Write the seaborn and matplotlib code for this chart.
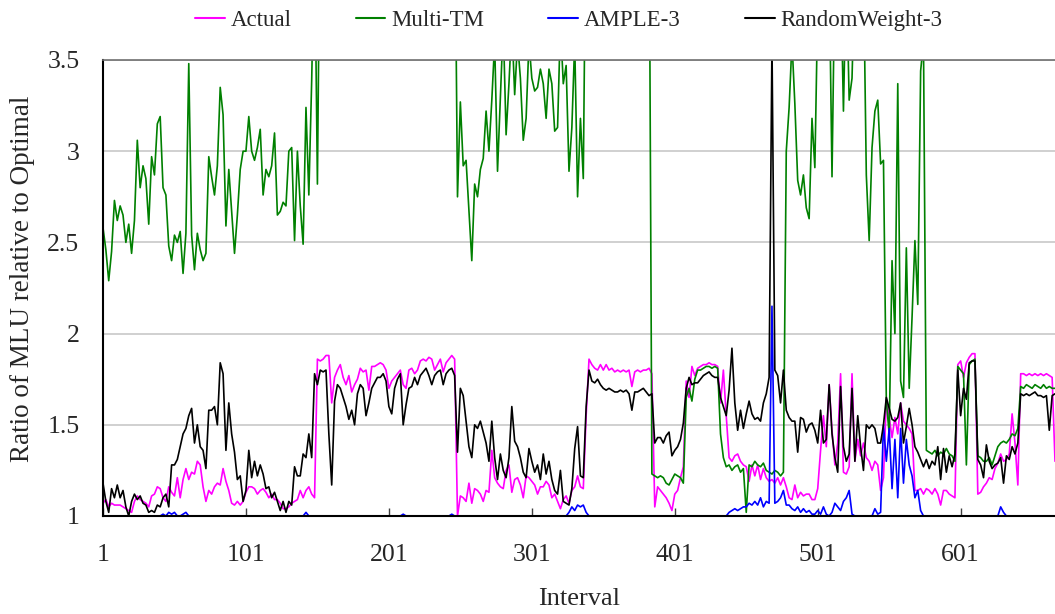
import numpy as np
import pandas as pd
import matplotlib
matplotlib.use('Agg')
import matplotlib.pyplot as plt
from matplotlib.lines import Line2D
import seaborn as sns

# intervals (every 2nd interval)
intervals = np.arange(1, 668, 2)

actual = [
    1.07, 1.09, 1.05, 1.07, 1.06, 1.06, 1.06, 1.05, 1.04, 1.03,
    1.02, 1.08, 1.11, 1.09, 1.08, 1.07, 1.05, 1.11, 1.12, 1.16,
    1.15, 1.10, 1.08, 1.16, 1.13, 1.11, 1.21, 1.10, 1.20, 1.26,
    1.20, 1.24, 1.23, 1.30, 1.28, 1.16, 1.08, 1.14, 1.12, 1.16,
    1.18, 1.17, 1.26, 1.19, 1.14, 1.07, 1.06, 1.08, 1.06, 1.08,
    1.13, 1.16, 1.16, 1.15, 1.12, 1.14, 1.15, 1.13, 1.10, 1.12,
    1.09, 1.09, 1.07, 1.04, 1.04, 1.05, 1.07, 1.08, 1.09, 1.14,
    1.10, 1.14, 1.16, 1.12, 1.10, 1.86, 1.85, 1.86, 1.88, 1.88,
    1.62, 1.76, 1.80, 1.83, 1.76, 1.72, 1.77, 1.68, 1.72, 1.75,
    1.81, 1.79, 1.80, 1.69, 1.82, 1.82, 1.83, 1.84, 1.83, 1.80,
    1.70, 1.74, 1.76, 1.78, 1.80, 1.72, 1.70, 1.80, 1.81, 1.78,
    1.80, 1.85, 1.86, 1.85, 1.87, 1.86, 1.80, 1.83, 1.86, 1.79,
    1.84, 1.86, 1.88, 1.86, 1.00, 1.11, 1.10, 1.08, 1.18, 1.07,
    1.15, 1.14, 1.12, 1.08, 1.14, 1.13, 1.36, 1.21, 1.18, 1.16,
    1.15, 1.25, 1.28, 1.13, 1.20, 1.21, 1.17, 1.10, 1.22, 1.21,
    1.19, 1.17, 1.12, 1.16, 1.16, 1.19, 1.17, 1.10, 1.12, 1.08,
    1.04, 1.09, 1.11, 1.07, 1.14, 1.16, 1.22, 1.16, 1.15, 1.55,
    1.86, 1.83, 1.81, 1.80, 1.83, 1.80, 1.83, 1.80, 1.81, 1.79,
    1.80, 1.79, 1.80, 1.79, 1.80, 1.71, 1.79, 1.80, 1.79, 1.80,
    1.80, 1.81, 1.78, 1.05, 1.16, 1.14, 1.12, 1.10, 1.07, 1.03,
    1.12, 1.14, 1.21, 1.27, 1.74, 1.65, 1.82, 1.77, 1.81, 1.82,
    1.83, 1.83, 1.84, 1.83, 1.83, 1.82, 1.62, 1.80, 1.55, 1.32,
    1.30, 1.33, 1.34, 1.30, 1.28, 1.27, 1.19, 1.28, 1.22, 1.28,
    1.20, 1.26, 1.21, 1.19, 1.20, 1.18, 1.21, 1.17, 1.21, 1.16,
    1.10, 1.09, 1.17, 1.10, 1.13, 1.11, 1.12, 1.12, 1.09, 1.09,
    1.15, 1.36, 1.55, 1.38, 1.72, 1.47, 1.28, 1.40, 1.78, 1.24,
    1.23, 1.27, 1.78, 1.30, 1.42, 1.33, 1.40, 1.32, 1.30, 1.25,
    1.30, 1.28, 1.14, 1.21, 1.64, 1.54, 1.43, 1.54, 1.45, 1.62,
    1.52, 1.50, 1.48, 1.45, 1.14, 1.14, 1.15, 1.12, 1.15, 1.14,
    1.12, 1.15, 1.12, 1.06, 1.14, 1.14, 1.12, 1.11, 1.10, 1.83,
    1.85, 1.76, 1.84, 1.87, 1.89, 1.89, 1.12, 1.13, 1.16, 1.18,
    1.21, 1.20, 1.26, 1.29, 1.34, 1.30, 1.31, 1.34, 1.56, 1.40,
    1.17, 1.78, 1.78, 1.77, 1.78, 1.77, 1.78, 1.77, 1.78, 1.77,
    1.78, 1.77, 1.76, 1.30,
]

multi_tm = [
    2.58, 2.46, 2.29, 2.45, 2.73, 2.62, 2.70, 2.65, 2.50, 2.60,
    2.44, 2.62, 3.06, 2.80, 2.92, 2.85, 2.60, 2.97, 2.87, 3.15,
    3.19, 2.80, 2.76, 2.48, 2.40, 2.54, 2.50, 2.56, 2.33, 2.55,
    3.48, 2.54, 2.35, 2.55, 2.46, 2.40, 2.44, 2.97, 2.86, 2.76,
    2.92, 3.35, 3.20, 2.59, 2.90, 2.67, 2.44, 2.65, 2.90, 3.00,
    3.00, 3.19, 3.00, 2.95, 3.02, 3.12, 2.76, 2.90, 2.86, 2.92,
    3.10, 2.65, 2.67, 2.72, 2.70, 3.00, 3.02, 2.51, 3.00, 2.70,
    2.49, 3.24, 2.76, 3.39, 4.20, 2.82, 4.50, 4.50, 4.50, 4.50,
    4.50, 4.50, 4.50, 4.50, 4.50, 4.50, 4.50, 4.50, 4.50, 4.50,
    4.50, 4.50, 4.50, 4.50, 4.50, 4.50, 4.50, 4.50, 4.50, 4.50,
    4.50, 4.50, 4.50, 4.50, 4.50, 4.50, 4.50, 4.50, 4.50, 4.50,
    4.50, 4.50, 4.50, 4.50, 4.50, 4.50, 4.50, 4.50, 4.50, 4.50,
    4.50, 4.50, 4.50, 4.50, 2.75, 3.27, 2.92, 2.95, 2.67, 2.40,
    2.82, 2.75, 2.90, 2.96, 3.22, 3.00, 3.28, 3.60, 2.89, 3.29,
    3.70, 3.09, 3.37, 3.70, 3.31, 3.60, 3.40, 3.06, 3.18, 3.60,
    3.40, 3.33, 3.35, 3.45, 3.37, 3.18, 3.45, 3.37, 3.11, 3.13,
    3.70, 3.37, 3.47, 2.89, 3.13, 3.60, 2.75, 3.18, 2.85, 4.50,
    4.50, 4.50, 4.50, 4.50, 4.50, 4.50, 4.50, 4.50, 4.50, 4.50,
    4.50, 4.50, 4.50, 4.50, 4.50, 4.50, 4.50, 4.50, 4.50, 4.50,
    4.50, 4.50, 1.23, 1.22, 1.21, 1.22, 1.21, 1.18, 1.17, 1.20,
    1.23, 1.22, 1.21, 1.18, 1.65, 1.70, 1.63, 1.75, 1.80, 1.80,
    1.81, 1.82, 1.82, 1.81, 1.82, 1.81, 1.45, 1.32, 1.27, 1.28,
    1.25, 1.27, 1.28, 1.24, 1.26, 1.02, 1.28, 1.27, 1.30, 1.28,
    1.27, 1.29, 1.25, 1.24, 1.23, 1.25, 1.24, 1.22, 1.24, 3.00,
    3.24, 3.60, 3.26, 2.84, 2.76, 2.87, 2.69, 2.63, 3.18, 2.91,
    3.80, 4.00, 4.00, 4.00, 4.00, 2.86, 4.00, 4.00, 4.00, 3.22,
    4.00, 3.28, 3.40, 4.00, 4.00, 4.00, 4.00, 2.87, 2.51, 3.02,
    3.22, 3.28, 2.93, 2.95, 1.63, 1.45, 2.40, 2.00, 3.37, 1.74,
    1.65, 2.47, 1.70, 2.09, 2.51, 2.16, 3.44, 3.60, 1.36, 1.35,
    1.34, 1.36, 1.33, 1.35, 1.34, 1.37, 1.34, 1.33, 1.30, 1.82,
    1.80, 1.78, 1.28, 1.83, 1.85, 1.86, 1.33, 1.32, 1.30, 1.30,
    1.32, 1.28, 1.33, 1.38, 1.40, 1.41, 1.40, 1.42, 1.45, 1.44,
    1.48, 1.71, 1.70, 1.72, 1.71, 1.70, 1.72, 1.71, 1.70, 1.72,
    1.70, 1.71, 1.70, 1.70,
]

ample3 = [
    1.00, 1.00, 1.00, 1.00, 1.00, 1.00, 1.00, 1.00, 1.00, 1.00,
    1.00, 1.00, 1.00, 1.00, 1.00, 1.00, 1.00, 1.00, 1.00, 1.00,
    1.00, 1.01, 1.00, 1.02, 1.01, 1.02, 1.00, 1.00, 1.01, 1.02,
    1.00, 1.00, 1.00, 1.00, 1.00, 1.00, 1.00, 1.00, 1.00, 1.00,
    1.00, 1.00, 1.00, 1.00, 1.00, 1.00, 1.00, 1.00, 1.00, 1.00,
    1.00, 1.00, 1.00, 1.00, 1.00, 1.00, 1.00, 1.00, 1.00, 1.00,
    1.00, 1.00, 1.00, 1.00, 1.00, 1.00, 1.00, 1.00, 1.00, 1.00,
    1.00, 1.02, 1.00, 1.00, 1.00, 1.00, 1.00, 1.00, 1.00, 1.00,
    1.00, 1.00, 1.00, 1.00, 1.00, 1.00, 1.00, 1.00, 1.00, 1.00,
    1.00, 1.00, 1.00, 1.00, 1.00, 1.00, 1.00, 1.00, 1.00, 1.00,
    1.00, 1.00, 1.00, 1.00, 1.00, 1.01, 1.00, 1.00, 1.00, 1.00,
    1.00, 1.00, 1.00, 1.00, 1.00, 1.00, 1.00, 1.00, 1.00, 1.00,
    1.00, 1.00, 1.01, 1.00, 1.00, 1.00, 1.00, 1.00, 1.00, 1.00,
    1.00, 1.00, 1.00, 1.00, 1.00, 1.00, 1.00, 1.00, 1.00, 1.00,
    1.00, 1.00, 1.00, 1.00, 1.00, 1.00, 1.00, 1.00, 1.00, 1.00,
    1.00, 1.00, 1.00, 1.00, 1.00, 1.00, 1.00, 1.00, 1.00, 1.00,
    1.00, 1.00, 1.00, 1.02, 1.05, 1.03, 1.06, 1.05, 1.06, 1.02,
    1.00, 1.00, 1.00, 1.00, 1.00, 1.00, 1.00, 1.00, 1.00, 1.00,
    1.00, 1.00, 1.00, 1.00, 1.00, 1.00, 1.00, 1.00, 1.00, 1.00,
    1.00, 1.00, 1.00, 1.00, 1.00, 1.00, 1.00, 1.00, 1.00, 1.00,
    1.00, 1.00, 1.00, 1.00, 1.00, 1.00, 1.00, 1.00, 1.00, 1.00,
    1.00, 1.00, 1.00, 1.00, 1.00, 1.00, 1.00, 1.00, 1.00, 1.02,
    1.03, 1.04, 1.03, 1.04, 1.05, 1.05, 1.07, 1.06, 1.08, 1.06,
    1.10, 1.05, 1.08, 1.07, 2.15, 1.07, 1.08, 1.10, 1.14, 1.06,
    1.06, 1.04, 1.03, 1.05, 1.02, 1.04, 1.02, 1.03, 1.01, 1.01,
    1.03, 1.01, 1.05, 1.01, 1.00, 1.02, 1.07, 1.05, 1.03, 1.08,
    1.10, 1.14, 1.01, 1.00, 1.00, 1.00, 1.00, 1.00, 1.00, 1.00,
    1.04, 1.01, 1.02, 1.50, 1.30, 1.48, 1.15, 1.42, 1.10, 1.48,
    1.18, 1.42, 1.28, 1.22, 1.10, 1.14, 1.03, 1.00, 1.00, 1.00,
    1.00, 1.00, 1.00, 1.00, 1.00, 1.00, 1.00, 1.00, 1.00, 1.00,
    1.00, 1.00, 1.00, 1.00, 1.00, 1.00, 1.00, 1.00, 1.00, 1.00,
    1.00, 1.00, 1.00, 1.00, 1.05, 1.02, 1.00, 1.00, 1.00, 1.00,
    1.00, 1.00, 1.00, 1.00, 1.00, 1.00, 1.00, 1.00, 1.00, 1.00,
    1.00, 1.00, 1.00, 1.00,
]

random_weight3 = [
    1.18, 1.08, 1.02, 1.15, 1.10, 1.17, 1.10, 1.14, 1.05, 1.00,
    1.08, 1.12, 1.09, 1.11, 1.07, 1.06, 1.02, 1.03, 1.02, 1.06,
    1.05, 1.10, 1.12, 1.05, 1.28, 1.28, 1.31, 1.38, 1.45, 1.48,
    1.55, 1.59, 1.40, 1.50, 1.38, 1.36, 1.26, 1.58, 1.58, 1.60,
    1.50, 1.84, 1.78, 1.36, 1.62, 1.45, 1.35, 1.20, 1.22, 1.08,
    1.14, 1.36, 1.21, 1.30, 1.22, 1.28, 1.23, 1.15, 1.16, 1.10,
    1.13, 1.08, 1.03, 1.08, 1.02, 1.08, 1.06, 1.27, 1.22, 1.22,
    1.34, 1.32, 1.45, 1.32, 1.78, 1.72, 1.80, 1.79, 1.80, 1.45,
    1.17, 1.63, 1.72, 1.70, 1.65, 1.60, 1.53, 1.58, 1.50, 1.67,
    1.72, 1.70, 1.55, 1.62, 1.70, 1.73, 1.76, 1.76, 1.78, 1.74,
    1.60, 1.56, 1.70, 1.75, 1.78, 1.50, 1.61, 1.70, 1.71, 1.76,
    1.72, 1.77, 1.79, 1.81, 1.77, 1.72, 1.77, 1.79, 1.80, 1.72,
    1.78, 1.80, 1.81, 1.77, 1.35, 1.70, 1.66, 1.52, 1.38, 1.32,
    1.50, 1.48, 1.52, 1.46, 1.40, 1.30, 1.52, 1.32, 1.20, 1.34,
    1.25, 1.21, 1.32, 1.60, 1.41, 1.38, 1.32, 1.24, 1.21, 1.37,
    1.30, 1.24, 1.28, 1.20, 1.34, 1.23, 1.30, 1.20, 1.14, 1.12,
    1.25, 1.08, 1.07, 1.06, 1.15, 1.37, 1.49, 1.22, 1.21, 1.60,
    1.80, 1.74, 1.73, 1.75, 1.72, 1.70, 1.69, 1.70, 1.69, 1.68,
    1.68, 1.69, 1.68, 1.69, 1.67, 1.58, 1.68, 1.68, 1.69, 1.70,
    1.68, 1.66, 1.67, 1.40, 1.43, 1.43, 1.40, 1.44, 1.46, 1.33,
    1.36, 1.38, 1.42, 1.51, 1.70, 1.76, 1.72, 1.73, 1.73, 1.75,
    1.77, 1.78, 1.79, 1.77, 1.76, 1.76, 1.65, 1.60, 1.55, 1.69,
    1.92, 1.62, 1.47, 1.58, 1.48, 1.56, 1.63, 1.56, 1.53, 1.54,
    1.52, 1.62, 1.67, 1.76, 3.60, 1.80, 1.77, 1.62, 1.80, 1.58,
    1.54, 1.52, 1.52, 1.35, 1.54, 1.53, 1.46, 1.50, 1.51, 1.47,
    1.40, 1.58, 1.40, 1.42, 1.72, 1.45, 1.32, 1.24, 1.71, 1.38,
    1.30, 1.34, 1.70, 1.30, 1.55, 1.38, 1.25, 1.50, 1.48, 1.50,
    1.48, 1.40, 1.40, 1.50, 1.65, 1.59, 1.53, 1.52, 1.54, 1.62,
    1.40, 1.49, 1.59, 1.50, 1.38, 1.35, 1.31, 1.27, 1.31, 1.26,
    1.30, 1.28, 1.38, 1.20, 1.37, 1.24, 1.33, 1.27, 1.34, 1.80,
    1.55, 1.70, 1.64, 1.84, 1.85, 1.85, 1.31, 1.28, 1.21, 1.39,
    1.30, 1.26, 1.28, 1.29, 1.32, 1.18, 1.33, 1.31, 1.38, 1.34,
    1.40, 1.67, 1.66, 1.67, 1.66, 1.67, 1.68, 1.66, 1.66, 1.65,
    1.66, 1.47, 1.66, 1.67,
]

series_names = ['Actual', 'Multi-TM', 'AMPLE-3', 'RandomWeight-3']
series_colors = ['#FF00FF', '#008000', '#0000FF', '#000000']
x_ticks = [1, 101, 201, 301, 401, 501, 601]
y_ticks = [1, 1.5, 2, 2.5, 3, 3.5]
y_tick_labels = ['1', '1.5', '2', '2.5', '3', '3.5']

df = pd.DataFrame({
    'Interval': intervals,
    'Actual': actual,
    'Multi-TM': multi_tm,
    'AMPLE-3': ample3,
    'RandomWeight-3': random_weight3,
})
df_long = df.melt(id_vars='Interval', var_name='Series', value_name='Ratio')

sns.set_theme(style='white')
plt.rcParams['font.family'] = ['Liberation Serif', 'DejaVu Serif']

fig = plt.figure(figsize=(10.55, 6.14), dpi=100)
ax = fig.add_axes([103 / 1055, 1 - 516 / 614, 952 / 1055, 456 / 614])

sns.lineplot(data=df_long, x='Interval', y='Ratio', hue='Series',
             hue_order=series_names, palette=series_colors,
             linewidth=1.2, estimator=None, sort=False, legend=False, ax=ax)

ax.set_xlim(1, 667)
ax.set_ylim(1, 3.5)
ax.set_xticks(x_ticks)
ax.set_xticklabels([str(t) for t in x_ticks])
ax.set_yticks(y_ticks)
ax.set_yticklabels(y_tick_labels)

ax.yaxis.grid(True, color='#c8c8c8', linewidth=1.2)
ax.xaxis.grid(False)
ax.set_axisbelow(True)

ax.spines['right'].set_visible(False)
ax.spines['top'].set_color('#707070')
ax.spines['top'].set_linewidth(1.2)
ax.spines['left'].set_color('black')
ax.spines['left'].set_linewidth(1.5)
ax.spines['bottom'].set_color('black')
ax.spines['bottom'].set_linewidth(1.5)

ax.tick_params(axis='x', bottom=True, direction='in', length=6, width=1,
               color='#404040', labelsize=18.5, pad=20)
ax.tick_params(axis='y', left=False, length=0, labelsize=18.5, pad=17)

ax.set_xlabel('Interval', fontsize=19)
ax.set_ylabel('Ratio of MLU relative to Optimal', fontsize=19.5)
ax.xaxis.set_label_coords(0.5, -0.157)
ax.yaxis.set_label_coords(-0.071, 0.52)

handles = [Line2D([], [], color=c, linewidth=1.5) for c in series_colors]
fig.legend(handles, series_names, loc='center', bbox_to_anchor=(0.539, 0.967),
           ncol=4, frameon=False, fontsize=16.5, handlelength=1.3,
           handletextpad=0.25, columnspacing=2.8)

fig.savefig('out.png', dpi=100)
